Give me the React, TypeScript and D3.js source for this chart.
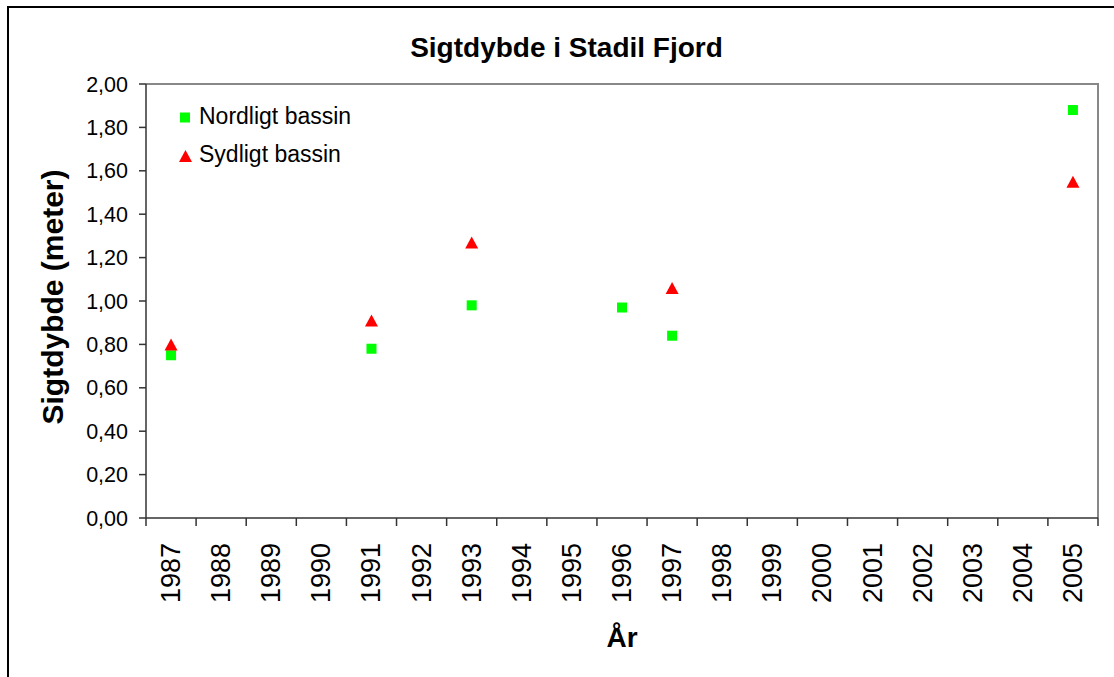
import { useEffect, useRef } from "react";
import * as d3 from "d3";

const years = [
  "1987", "1988", "1989", "1990", "1991", "1992", "1993", "1994", "1995", "1996",
  "1997", "1998", "1999", "2000", "2001", "2002", "2003", "2004", "2005",
];

const yTicks = [0, 0.2, 0.4, 0.6, 0.8, 1.0, 1.2, 1.4, 1.6, 1.8, 2.0];

// Nordligt bassin (green squares)
const nordYears = ["1987", "1991", "1993", "1996", "1997", "2005"];
const nordValues = [0.75, 0.78, 0.98, 0.97, 0.84, 1.88];

// Sydligt bassin (red triangles)
const sydYears = ["1987", "1991", "1993", "1997", "2005"];
const sydValues = [0.8, 0.91, 1.27, 1.06, 1.55];

const W = 1114;
const H = 677;
const FONT = "'Liberation Sans', Arial, sans-serif";

export default function App() {
  const svgRef = useRef<SVGSVGElement>(null);

  useEffect(() => {
    if (!svgRef.current) return;
    const svg = d3.select(svgRef.current);
    svg.selectAll("*").remove();

    const left = 146, right = 1098, top = 84, bottom = 518;

    const x = d3.scaleBand<string>().domain(years).range([left, right]).padding(0);
    const y = d3.scaleLinear().domain([0, 2]).range([bottom, top]);
    const cx = (yr: string) => (x(yr) ?? 0) + x.bandwidth() / 2;

    // outer chart frame
    svg.append("rect")
      .attr("x", 8).attr("y", 7)
      .attr("width", W + 20).attr("height", H + 20)
      .attr("fill", "#fff")
      .attr("stroke", "#000")
      .attr("stroke-width", 2);

    // plot area border (top + right)
    svg.append("path")
      .attr("d", `M${left},${top}H${right}V${bottom}`)
      .attr("fill", "none")
      .attr("stroke", "#888")
      .attr("stroke-width", 2);

    // y axis
    const g = svg.append("g");
    g.append("line")
      .attr("x1", left).attr("x2", left)
      .attr("y1", top).attr("y2", bottom)
      .attr("stroke", "#333").attr("stroke-width", 1.5);
    yTicks.forEach((t) => {
      g.append("line")
        .attr("x1", left - 7).attr("x2", left)
        .attr("y1", y(t)).attr("y2", y(t))
        .attr("stroke", "#333").attr("stroke-width", 1.5);
      g.append("text")
        .attr("x", 128).attr("y", y(t) + 7.5)
        .attr("text-anchor", "end")
        .attr("font-family", FONT)
        .attr("font-size", 21.5)
        .attr("fill", "#000")
        .text(t.toFixed(2).replace(".", ","));
    });

    // x axis
    g.append("line")
      .attr("x1", left).attr("x2", right)
      .attr("y1", bottom).attr("y2", bottom)
      .attr("stroke", "#333").attr("stroke-width", 1.5);
    [...years.map((yr) => x(yr) ?? 0), right].forEach((px) => {
      g.append("line")
        .attr("x1", px).attr("x2", px)
        .attr("y1", bottom).attr("y2", bottom + 8)
        .attr("stroke", "#333").attr("stroke-width", 1.5);
    });
    years.forEach((yr) => {
      g.append("text")
        .attr("transform", `translate(${cx(yr) + 9},${bottom + 25}) rotate(-90)`)
        .attr("text-anchor", "end")
        .attr("font-family", FONT)
        .attr("font-size", 27)
        .attr("fill", "#000")
        .text(yr);
    });

    // markers
    nordYears.forEach((yr, i) => {
      svg.append("rect")
        .attr("x", cx(yr) - 5).attr("y", y(nordValues[i]) - 5)
        .attr("width", 10).attr("height", 10)
        .attr("fill", "#00ff00");
    });
    const tri = (px: number, py: number) =>
      `M${px},${py - 6}L${px + 6.5},${py + 6}L${px - 6.5},${py + 6}Z`;
    sydYears.forEach((yr, i) => {
      svg.append("path")
        .attr("d", tri(cx(yr), y(sydValues[i])))
        .attr("fill", "#ff0000");
    });

    // legend
    svg.append("rect")
      .attr("x", 180).attr("y", 112.5)
      .attr("width", 10).attr("height", 10)
      .attr("fill", "#00ff00");
    svg.append("path").attr("d", tri(185.5, 156)).attr("fill", "#ff0000");
    svg.append("text")
      .attr("x", 199).attr("y", 123.5)
      .attr("font-family", FONT).attr("font-size", 23)
      .text("Nordligt bassin");
    svg.append("text")
      .attr("x", 199).attr("y", 161.5)
      .attr("font-family", FONT).attr("font-size", 23)
      .text("Sydligt bassin");

    // titles
    svg.append("text")
      .attr("x", 566.5).attr("y", 57)
      .attr("text-anchor", "middle")
      .attr("font-family", FONT).attr("font-size", 28).attr("font-weight", "bold")
      .text("Sigtdybde i Stadil Fjord");
    svg.append("text")
      .attr("transform", `translate(63,297) rotate(-90)`)
      .attr("text-anchor", "middle")
      .attr("font-family", FONT).attr("font-size", 30).attr("font-weight", "bold")
      .text("Sigtdybde (meter)");
    svg.append("text")
      .attr("x", 622).attr("y", 647)
      .attr("text-anchor", "middle")
      .attr("font-family", FONT).attr("font-size", 28).attr("font-weight", "bold")
      .text("År");
  }, []);

  return (
    <svg
      ref={svgRef}
      width={W}
      height={H}
      style={{ position: "absolute", left: 0, top: 0, background: "#fff" }}
    />
  );
}
